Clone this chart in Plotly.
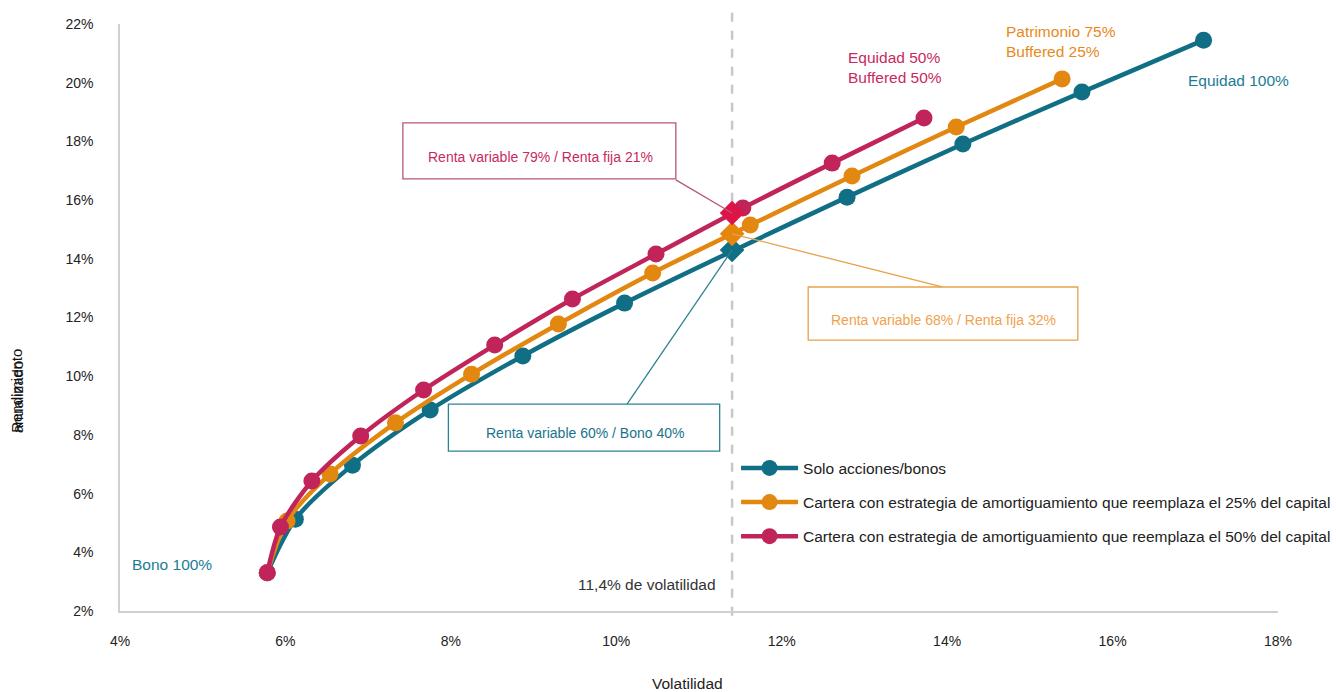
import plotly.graph_objects as go

# Volatility (%) and annualised return (%) along each efficient frontier
vol_base = [5.78, 6.12, 6.81, 7.75, 8.87, 10.10, 12.79, 14.19, 15.63, 17.10]
ret_base = [3.30, 5.13, 6.97, 8.85, 10.69, 12.49, 16.10, 17.91, 19.68, 21.45]

vol_b25 = [5.78, 6.02, 6.54, 7.33, 8.25, 9.30, 10.44, 11.62, 12.85, 14.11, 15.39]
ret_b25 = [3.30, 5.07, 6.67, 8.41, 10.07, 11.78, 13.52, 15.15, 16.82, 18.49, 20.13]

vol_b50 = [5.78, 5.94, 6.32, 6.91, 7.67, 8.53, 9.47, 10.48, 11.53, 12.61, 13.72]
ret_b50 = [3.30, 4.86, 6.43, 7.96, 9.53, 11.06, 12.63, 14.16, 15.73, 17.26, 18.80]

# Portfolios at the reference volatility level
ref_vol = 11.4
ref_ret = [14.30, 14.85, 15.56]

series_names = [
    "Solo acciones/bonos",
    "Cartera con estrategia de amortiguamiento que reemplaza el 25% del capital",
    "Cartera con estrategia de amortiguamiento que reemplaza el 50% del capital",
]
ref_labels = [
    "Renta variable 60% / Bono 40%",
    "Renta variable 68% / Renta fija 32%",
    "Renta variable 79% / Renta fija 21%",
]
x_ticks = [4, 6, 8, 10, 12, 14, 16, 18]
y_ticks = [2, 4, 6, 8, 10, 12, 14, 16, 18, 20, 22]

TEAL = "#106F85"
ORANGE = "#E2870F"
CRIMSON = "#C0245A"
DIAMOND = ["#0E6F86", "#E5870C", "#DC1546"]
FONT = "Liberation Sans, Arial, sans-serif"
LABEL_SIZE = 15.5

fig = go.Figure()

series = [
    (vol_base, ret_base, TEAL),
    (vol_b25, ret_b25, ORANGE),
    (vol_b50, ret_b50, CRIMSON),
]
for i, (xs, ys, col) in enumerate(series):
    fig.add_trace(go.Scatter(
        x=xs, y=ys, mode="lines+markers", name=series_names[i],
        legendgroup=f"g{i}",
        line=dict(color=col, width=4.5, shape="spline", smoothing=0.8),
        marker=dict(color=col, size=17, symbol="circle"),
    ))

for i, r in enumerate(ref_ret):
    fig.add_trace(go.Scatter(
        x=[ref_vol], y=[r], mode="markers", showlegend=False,
        marker=dict(color=DIAMOND[i], size=19, symbol="diamond"),
        hoverinfo="skip",
    ))

# Reference volatility line
fig.add_shape(type="line", xref="x", yref="paper", x0=ref_vol, x1=ref_vol,
              y0=-0.008, y1=1.02,
              line=dict(color="#C8C8C8", width=2.5, dash="dash"), layer="below")

# Callout boxes with connectors
boxes = [
    # (x0, x1, y0, y1, text x, text y, connector start x, y, line colour, text colour)
    (7.97, 11.25, 7.45, 9.05, 9.62, 8.06, 10.13, 9.05, "#2F8294", "#17748C"),
    (12.32, 15.58, 11.23, 13.04, 13.95, 11.92, 13.94, 13.04, "#E8A24A", "#F0A24C"),
    (7.42, 10.72, 16.72, 18.63, 9.08, 17.47, 10.72, 16.69, "#B8557C", "#C82A5E"),
]
for i, (x0, x1, y0, y1, tx, ty, cx, cy, lc, tc) in enumerate(boxes):
    fig.add_shape(type="rect", xref="x", yref="y", x0=x0, x1=x1, y0=y0, y1=y1,
                  line=dict(color=lc, width=1.3), fillcolor="rgba(255,255,255,0)")
    fig.add_shape(type="line", xref="x", yref="y", x0=cx, y0=cy,
                  x1=ref_vol, y1=ref_ret[i], line=dict(color=lc, width=1.3))
    fig.add_annotation(x=tx, y=ty, xref="x", yref="y", text=ref_labels[i],
                       showarrow=False, font=dict(family=FONT, size=14, color=tc))

# Series end-point labels
end_labels = [
    (4.12, 3.60, "Bono 100%", "#1A7C95"),
    (16.89, 20.09, "Equidad 100%", "#1A7C95"),
    (14.69, 21.39, "Patrimonio 75%<br>Buffered 25%", "#E8891A"),
    (12.78, 20.53, "Equidad 50%<br>Buffered 50%", "#C82A5E"),
]
for x, y, t, c in end_labels:
    fig.add_annotation(x=x, y=y, xref="x", yref="y", text=t, showarrow=False,
                       xanchor="left", align="left",
                       font=dict(family=FONT, size=LABEL_SIZE, color=c))

fig.add_annotation(x=11.23, y=2.92, xref="x", yref="y", text="11,4% de volatilidad",
                   showarrow=False, xanchor="right",
                   font=dict(family=FONT, size=LABEL_SIZE, color="#333333"))

# Axis titles
fig.add_annotation(x=0.5, y=-0.124, xref="paper", yref="paper", text="Volatilidad",
                   showarrow=False, yanchor="middle", xshift=-12,
                   font=dict(family=FONT, size=LABEL_SIZE, color="#222222"))
for word in ["Rendimiento", "anualizado"]:
    fig.add_annotation(x=-0.089, y=0.30, xref="paper", yref="paper", text=word,
                       showarrow=False, textangle=-90, yanchor="bottom",
                       xanchor="center",
                       font=dict(family=FONT, size=15, color="#111111"))

fig.update_layout(
    width=1336, height=692,
    margin=dict(l=120, r=58, t=24, b=81, autoexpand=False),
    paper_bgcolor="white", plot_bgcolor="white",
    font=dict(family=FONT, size=14, color="#222222"),
    showlegend=True,
    legend=dict(x=0.532, y=0.272, xanchor="left", yanchor="top",
                font=dict(family=FONT, size=LABEL_SIZE, color="#222222"),
                tracegroupgap=11, itemwidth=57, bgcolor="rgba(255,255,255,0)"),
    xaxis=dict(range=[4, 18], tickvals=x_ticks,
               ticktext=[f"{v}%" for v in x_ticks],
               showgrid=False, zeroline=False, showline=True,
               linecolor="#D0D0D0", linewidth=1.5, ticks="",
               ticklabelstandoff=16, tickfont=dict(size=14, color="#222222")),
    yaxis=dict(range=[2, 22], tickvals=y_ticks,
               ticktext=[f"{v}%" for v in y_ticks],
               showgrid=False, zeroline=False, showline=True,
               linecolor="#D0D0D0", linewidth=1.5, ticks="",
               ticklabelstandoff=22, tickfont=dict(size=14, color="#222222")),
)

fig.write_html("out.html")
